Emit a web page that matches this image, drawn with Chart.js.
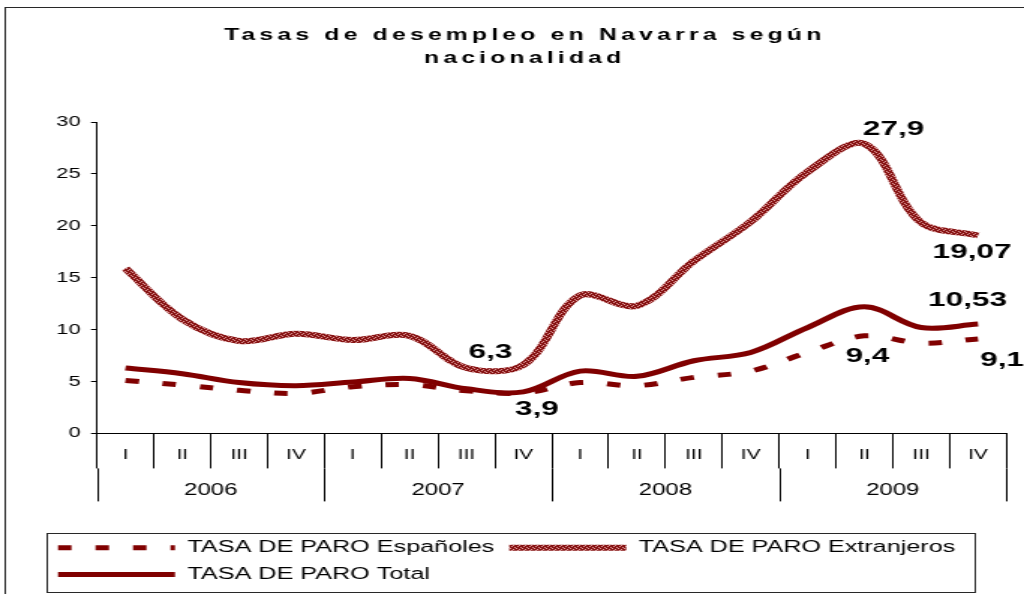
<!DOCTYPE html>
<html>
<head>
<meta charset="utf-8">
<script src="https://cdn.jsdelivr.net/npm/chart.js@4"></script>
<style>
  html, body { margin: 0; padding: 0; background: #fff; overflow: hidden; }
</style>
</head>
<body>
<!-- the original picture is stretched sideways, so the canvas is drawn narrow and widened -->
<canvas id="graph" width="683" height="594" style="width:1024px;height:594px"></canvas>
<script>
const maroon = 'rgb(128, 0, 0)'
const black = 'rgb(0, 0, 0)'
const fontFamily = 'Arial, "Liberation Sans", sans-serif'

// categories
const quarters = ['I', 'II', 'III', 'IV', 'I', 'II', 'III', 'IV', 'I', 'II', 'III', 'IV', 'I', 'II', 'III', 'IV']
const years = ['2006', '2007', '2008', '2009']

// series (% unemployment)
const espanoles =   [5.1, 4.65, 4.15, 3.85, 4.5, 4.7, 4.1, 3.9, 4.9, 4.6, 5.4, 6.0, 7.8, 9.4, 8.7, 9.1]
const extranjeros = [15.9, 11.0, 8.9, 9.6, 9.0, 9.4, 6.3, 6.6, 13.3, 12.3, 16.6, 20.4, 25.2, 27.9, 20.3, 19.07]
const total =       [6.3, 5.75, 4.9, 4.6, 4.95, 5.3, 4.3, 4.0, 6.0, 5.5, 7.0, 7.8, 10.2, 12.2, 10.2, 10.53]

// which points carry a value label: [dataset index, point index]
const labelledPoints = [[1, 13], [1, 15], [2, 15], [0, 13], [0, 15], [1, 6], [0, 7]]

const ctx = document.getElementById('graph')

// hatched texture for the foreigners line
function makeTexture() {
    const p = document.createElement('canvas')
    p.width = 4
    p.height = 4
    const c = p.getContext('2d')
    c.fillStyle = 'rgb(135, 20, 20)'
    c.fillRect(0, 0, 4, 4)
    c.fillStyle = 'rgb(220, 150, 150)'
    c.fillRect(0, 0, 1, 1)
    c.fillRect(2, 1, 1, 1)
    c.fillRect(1, 2, 1, 1)
    c.fillRect(3, 3, 1, 1)
    return ctx.getContext('2d').createPattern(p, 'repeat')
}
const texture = makeTexture()

//offsets of the value labels from their point (canvas px)
const labelOffsets = {
    '1-13': [19.5, -15], '1-15': [-4, 17], '2-15': [-7, -24],
    '0-13': [2, 20], '0-15': [16, 21], '1-6': [16, -16], '0-7': [9, 16]
}

const frame = {
    id: 'frame',
    beforeDraw(chart) {
        const c = chart.ctx
        c.save()
        c.strokeStyle = 'rgb(40, 40, 40)'
        c.lineWidth = 1
        c.strokeRect(3.5, 7.5, chart.width + 10, chart.height + 10)
        c.restore()
        //letter-spaced title
        if (!chart.titleBlock._spaced) {
            const tb = chart.titleBlock
            const orig = tb.draw.bind(tb)
            tb.draw = function () {
                const tc = this.ctx
                tc.save()
                tc.letterSpacing = '2.8px'
                orig()
                tc.restore()
            }
            tb._spaced = true
        }
    }
}

const yearRow = {
    id: 'yearRow',
    afterDraw(chart) {
        const x = chart.scales.x
        const c = chart.ctx
        const half = (x.getPixelForValue(1) - x.getPixelForValue(0)) / 2
        const top = x.top + 35
        const bottom = x.top + 68
        c.save()
        c.strokeStyle = black
        c.lineWidth = 1
        c.fillStyle = black
        c.font = '16px ' + fontFamily
        c.textAlign = 'center'
        c.textBaseline = 'middle'
        years.forEach((yr, i) => {
            const first = x.getPixelForValue(i * 4) - half
            const last = x.getPixelForValue(i * 4 + 3) + half
            const edges = i === years.length - 1 ? [first, last] : [first]
            edges.forEach(e => {
                const px = Math.round(e) + 0.5
                c.beginPath()
                c.moveTo(px, top)
                c.lineTo(px, bottom)
                c.stroke()
            })
            c.fillText(yr, (first + last) / 2, x.top + 57)
        })
        c.restore()
    }
}

const valueLabels = {
    id: 'valueLabels',
    afterDatasetsDraw(chart) {
        const c = chart.ctx
        c.save()
        c.font = 'bold 21px ' + fontFamily
        c.fillStyle = black
        c.textAlign = 'center'
        c.textBaseline = 'middle'
        labelledPoints.forEach(([ds, idx]) => {
            const pt = chart.getDatasetMeta(ds).data[idx]
            const v = chart.data.datasets[ds].data[idx]
            const off = labelOffsets[ds + '-' + idx]
            c.fillText(String(v).replace('.', ','), pt.x + off[0], pt.y + off[1])
        })
        c.restore()
    }
}

const legendBox = {
    id: 'legendBox',
    afterDraw(chart) {
        const boxes = chart.legend.legendHitBoxes
        if (!boxes || boxes.length < 3) return
        const c = chart.ctx
        const left = boxes[0].left - 7.5
        const right = boxes[1].left + boxes[1].width + 13
        const top = boxes[0].top - 6
        const bottom = boxes[2].top + boxes[2].height + 9
        c.save()
        c.strokeStyle = 'rgb(40, 40, 40)'
        c.lineWidth = 1
        c.strokeRect(Math.round(left) + 0.5, Math.round(top) + 0.5, Math.round(right - left), Math.round(bottom - top))
        c.restore()
    }
}

// legend samples should copy the line style (dash, width) of each dataset
function legendLabels(chart) {
    const items = Chart.defaults.plugins.legend.labels.generateLabels(chart)
    items.forEach(item => {
        const ds = chart.data.datasets[item.datasetIndex]
        item.lineDash = ds.borderDash || []
        item.lineWidth = ds.borderWidth
        item.strokeStyle = ds.borderColor
    })
    return items
}

const myChart = new Chart(ctx, {
    type: 'line',
    data: {
        labels: quarters,
        datasets: [
            {
                label: 'TASA DE PARO Españoles',
                data: espanoles,
                borderColor: maroon,
                backgroundColor: maroon,
                borderWidth: 5,
                borderDash: [9, 16],
                pointRadius: 0,
                tension: 0.35
            },
            {
                label: 'TASA DE PARO Extranjeros',
                data: extranjeros,
                borderColor: texture,
                backgroundColor: texture,
                borderWidth: 6,
                pointRadius: 0,
                tension: 0.35
            },
            {
                label: 'TASA DE PARO Total',
                data: total,
                borderColor: maroon,
                backgroundColor: maroon,
                borderWidth: 5,
                pointRadius: 0,
                tension: 0.35
            }
        ]
    },
    options: {
        responsive: false,
        devicePixelRatio: 1,
        animation: false,
        layout: {
            padding: {left: 28.7, right: 11.7, top: 0, bottom: 1}
        },
        plugins: {
            title: {
                display: true,
                text: ['Tasas de desempleo en Navarra según', 'nacionalidad'],
                color: black,
                font: {family: fontFamily, size: 16.5, weight: 'bold', lineHeight: 1.394},
                padding: {top: 24, bottom: 52}
            },
            legend: {
                display: true,
                position: 'bottom',
                align: 'start',
                labels: {
                    usePointStyle: true,
                    pointStyle: 'line',
                    pointStyleWidth: 78,
                    padding: 10,
                    color: black,
                    font: {family: fontFamily, size: 16.8},
                    generateLabels: legendLabels
                }
            },
            tooltip: {enabled: false}
        },
        scales: {
            x: {
                offset: true,
                grid: {
                    offset: true,
                    drawOnChartArea: false,
                    drawTicks: true,
                    tickLength: 35,
                    color: black,
                    lineWidth: 1
                },
                border: {display: true, color: black, width: 1},
                ticks: {
                    autoSkip: false,
                    maxRotation: 0,
                    padding: -21.4,
                    color: black,
                    font: {family: fontFamily, size: 14}
                },
                afterFit(scale) {
                    scale.height = 96
                }
            },
            y: {
                min: 0,
                max: 30,
                ticks: {
                    stepSize: 5,
                    padding: 7,
                    color: black,
                    font: {family: fontFamily, size: 14.5}
                },
                grid: {
                    drawOnChartArea: false,
                    drawTicks: true,
                    tickLength: 4,
                    color: black
                },
                border: {display: true, color: black, width: 1},
                afterFit(scale) {
                    scale.width = 36
                }
            }
        }
    },
    plugins: [frame, yearRow, valueLabels, legendBox]
})
</script>
</body>
</html>
